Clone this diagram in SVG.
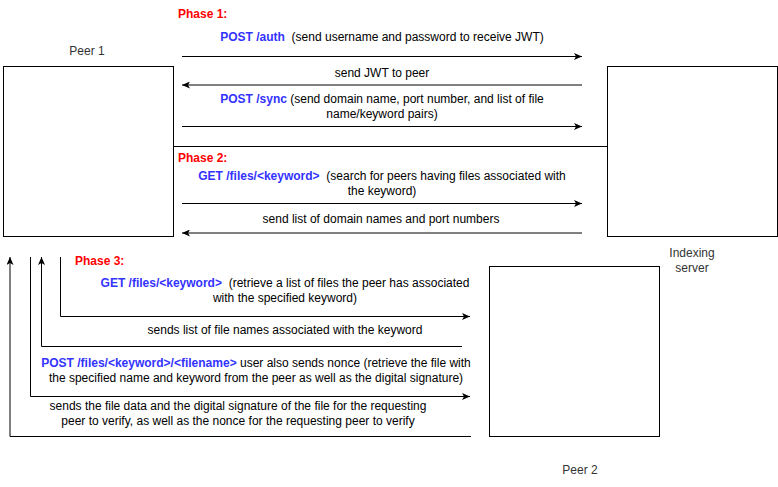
<svg xmlns="http://www.w3.org/2000/svg" width="778" height="487" viewBox="0 0 778 487">
<style>
text{font-family:"Liberation Sans",Arial,sans-serif;font-size:12px;fill:#000;white-space:pre}
.c{text-anchor:middle}
.b{fill:#3333FF;font-weight:bold}
.r{fill:#FF0000;font-weight:bold}
.box{fill:#fff;stroke:#000;stroke-width:1}
.ln{fill:none;stroke:#000;stroke-width:1}
.lbl{fill:#333}
</style>
<defs>
<marker id="ah" viewBox="0 0 8 7" refX="8" refY="3.5" markerWidth="8" markerHeight="7" markerUnits="userSpaceOnUse" orient="auto">
<path d="M0,0 L8,3.5 L0,7 L2,3.5 Z" fill="#000"/>
</marker>
</defs>
<rect width="778" height="487" fill="#fff"/>
<g id="peer1">
<rect class="box" x="3.5" y="66.5" width="170" height="170"/>
<text class="c lbl" x="87" y="55">Peer 1</text>
</g>
<g id="indexing-server">
<rect class="box" x="607.5" y="66.5" width="170" height="170"/>
<text class="c lbl" x="692" y="257">Indexing</text>
<text class="c lbl" x="692" y="272">server</text>
</g>
<g id="peer2">
<rect class="box" x="489.5" y="266.5" width="170" height="170"/>
<text class="c lbl" x="580" y="474">Peer 2</text>
</g>
<g id="connectors">
<path class="ln" d="M182,56.5 H582" marker-end="url(#ah)"/>
<path class="ln" d="M582,85 H182" marker-end="url(#ah)"/>
<path class="ln" d="M182,126.5 H582" marker-end="url(#ah)"/>
<path class="ln" d="M173,146.5 H607"/>
<path class="ln" d="M182,203.5 H582" marker-end="url(#ah)"/>
<path class="ln" d="M582,233 H182" marker-end="url(#ah)"/>
<path class="ln" d="M60.5,257 V316.5 H470" marker-end="url(#ah)"/>
<path class="ln" d="M462,346.5 H41.5 V257" marker-end="url(#ah)"/>
<path class="ln" d="M30.5,257 V396.5 H470" marker-end="url(#ah)"/>
<path class="ln" d="M471,436.5 H10 V257" marker-end="url(#ah)"/>
</g>
<g id="labels">
<text class="r" x="178" y="18">Phase 1:</text>
<text class="c" x="382" y="41"><tspan class="b">POST /auth</tspan>  (send username and password to receive JWT)</text>
<text class="c" x="382" y="77">send JWT to peer</text>
<text class="c" x="382" y="103"><tspan class="b">POST /sync</tspan> (send domain name, port number, and list of file</text>
<text class="c" x="382" y="118">name/keyword pairs)</text>
<text class="r" x="178" y="162">Phase 2:</text>
<text class="c" x="382" y="180"><tspan class="b">GET /files/&lt;keyword&gt;</tspan>  (search for peers having files associated with</text>
<text class="c" x="382" y="195">the keyword)</text>
<text class="c" x="381" y="223">send list of domain names and port numbers</text>
<text class="r" x="75" y="265">Phase 3:</text>
<text class="c" x="285" y="287"><tspan class="b">GET /files/&lt;keyword&gt;</tspan>  (retrieve a list of files the peer has associated</text>
<text class="c" x="285" y="302">with the specified keyword)</text>
<text class="c" x="285" y="334">sends list of file names associated with the keyword</text>
<text class="c" x="256" y="367"><tspan class="b">POST /files/&lt;keyword&gt;/&lt;filename&gt;</tspan> user also sends nonce (retrieve the file with</text>
<text class="c" x="256" y="382">the specified name and keyword from the peer as well as the digital signature)</text>
<text class="c" x="238" y="410">sends the file data and the digital signature of the file for the requesting</text>
<text class="c" x="238" y="425">peer to verify, as well as the nonce for the requesting peer to verify</text>
</g>
</svg>
